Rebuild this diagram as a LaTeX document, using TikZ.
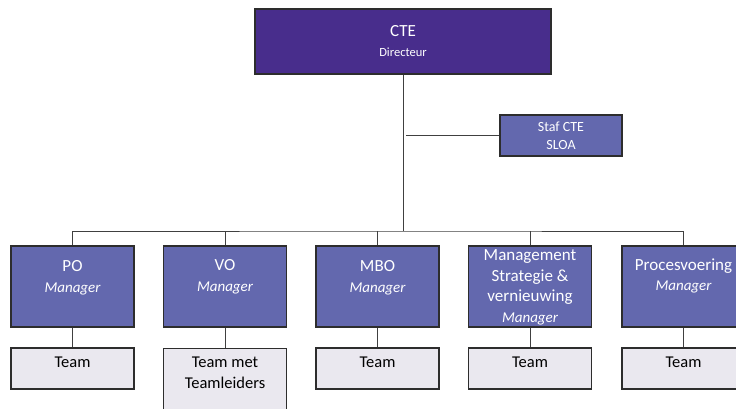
\documentclass[tikz,border=0pt]{standalone}
\usepackage{fontspec}
\setmainfont{Carlito}
\usetikzlibrary{positioning}

\definecolor{ctefill}{RGB}{72,45,140}
\definecolor{mgrfill}{RGB}{99,104,174}
\definecolor{teamfill}{RGB}{234,232,239}
\definecolor{edge}{RGB}{45,45,45}
\definecolor{wire}{RGB}{64,64,64}

\begin{document}
\begin{tikzpicture}[x=1pt,y=-1pt]
\tikzstyle{box}=[draw=edge,line width=1.2pt,inner sep=0pt]
\tikzstyle{ctebox}=[box,fill=ctefill,minimum width=296pt,minimum height=65pt,text=white,align=center,font=\fontsize{17}{21}\selectfont]
\tikzstyle{stafbox}=[box,fill=mgrfill,minimum width=122pt,minimum height=41pt,text=white,align=center,font=\fontsize{14}{18}\selectfont]
\tikzstyle{mgr}=[box,fill=mgrfill,minimum width=123pt,minimum height=81pt]
\tikzstyle{mgrtext}=[inner sep=0pt,text=white,align=center,font=\fontsize{17}{20.5}\selectfont]
\tikzstyle{team}=[box,fill=teamfill,minimum width=123pt,minimum height=41pt]
\tikzstyle{teamtext}=[inner sep=0pt,align=center,font=\fontsize{16.5}{21}\selectfont]
\tikzstyle{conn}=[draw=wire,line width=1pt]

\useasboundingbox (0,0) rectangle (736,409);

% top
\node[ctebox] (cte) at (403,41.5) {CTE\\[-1pt]{\fontsize{12.5}{15}\selectfont Directeur}};
\node[stafbox] (staf) at (561,135.5) {Staf CTE\\SLOA};

% managers
\node[mgr] (po) at (72.5,286.5) {};
\node[mgrtext,below=15pt of po.north] (po-l) {PO\\{\itshape\fontsize{15}{20}\selectfont Manager}};

\node[mgr] (vo) at (225,286.5) {};
\node[mgrtext,below=14pt of vo.north] (vo-l) {VO\\{\itshape\fontsize{15}{20}\selectfont Manager}};

\node[mgr] (mbo) at (377.5,286.5) {};
\node[mgrtext,below=15pt of mbo.north] (mbo-l) {MBO\\{\itshape\fontsize{15}{20}\selectfont Manager}};

\node[mgr] (mgt) at (530,286.5) {};
\node[mgrtext,below=4pt of mgt.north] (mgt-l) {Management\\Strategie \&\\vernieuwing\\{\itshape\fontsize{15}{20}\selectfont Manager}};

\node[mgr] (proc) at (683.5,286.5) {};
\node[mgrtext,below=13pt of proc.north] (proc-l) {Procesvoering\\{\itshape\fontsize{15}{20}\selectfont Manager}};

% teams
\node[team] (po-t) at (72.5,368.5) {};
\node[teamtext,below=9pt of po-t.north] (po-tl) {Team};

\node[team,minimum height=66pt,anchor=north] (vo-t) at (225,348) {};
\node[teamtext,below=9pt of vo-t.north] (vo-tl) {Team met\\Teamleiders};

\node[team] (mbo-t) at (377.5,368.5) {};
\node[teamtext,below=9pt of mbo-t.north] (mbo-tl) {Team};

\node[team] (mgt-t) at (530,368.5) {};
\node[teamtext,below=9pt of mgt-t.north] (mgt-tl) {Team};

\node[team] (proc-t) at (683.5,368.5) {};
\node[teamtext,below=9pt of proc-t.north] (proc-tl) {Team};

% lines
\coordinate (bus) at (403,231);
\coordinate (stafin) at (406,135.5);
\draw[conn] (cte.south) -- (bus);
\draw[conn] (stafin) -- (staf.west);
\draw[conn] (po.north) |- (bus) -| (proc.north);
\foreach \n in {vo,mbo,mgt} {
  \draw[conn] (\n.north) -- (\n.north |- bus);
}
\foreach \n in {po,vo,mbo,mgt,proc} {
  \draw[conn] (\n.south) -- (\n-t.north);
}
\end{tikzpicture}
\end{document}
